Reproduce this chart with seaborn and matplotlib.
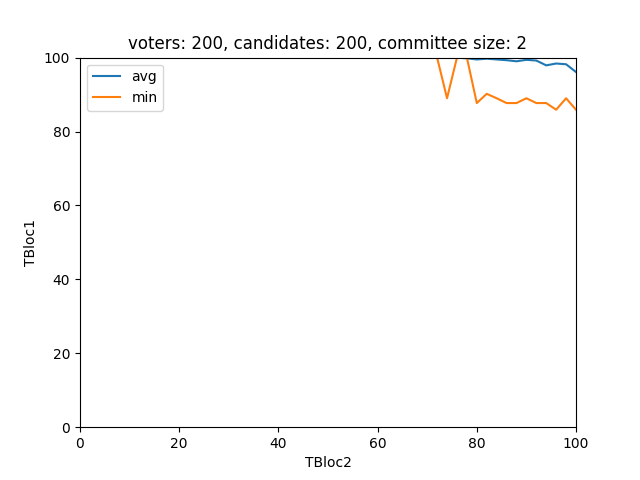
import numpy as np
import pandas as pd
import matplotlib
matplotlib.use("Agg")
import matplotlib.pyplot as plt
import seaborn as sns

# ── Data ──────────────────────────────────────────────────
tbloc2 = list(range(0, 101, 2))
avg_tail = [99.8, 99.5, 99.7, 99.5, 99.3, 99.0, 99.4, 99.2, 97.9, 98.4, 98.2, 96.1]   # x = 78..100
min_tail = [100, 89.0, 100, 100, 87.7, 90.2, 89.0, 87.7, 87.7, 89.0, 87.7, 87.7, 85.9, 89.0, 85.9]  # x = 72..100

avg_vals = [100.0] * (len(tbloc2) - len(avg_tail)) + avg_tail
min_vals = [100.0] * (len(tbloc2) - len(min_tail)) + min_tail

df = pd.DataFrame({"TBloc2": tbloc2 * 2,
                   "TBloc1": avg_vals + min_vals,
                   "series": ["avg"] * len(tbloc2) + ["min"] * len(tbloc2)})

fig, ax = plt.subplots(figsize=(6.4, 4.8), dpi=100)
sns.lineplot(data=df, x="TBloc2", y="TBloc1", hue="series",
             palette=["#1f77b4", "#ff7f0e"], linewidth=1.5, ax=ax)

ax.set_xlim(0, 100)
ax.set_ylim(0, 100)
ax.set_xlabel("TBloc2")
ax.set_ylabel("TBloc1")
ax.set_title("voters: 200, candidates: 200, committee size: 2")
ax.legend(title=None, loc="upper left")

plt.savefig("out.png", dpi=100)
